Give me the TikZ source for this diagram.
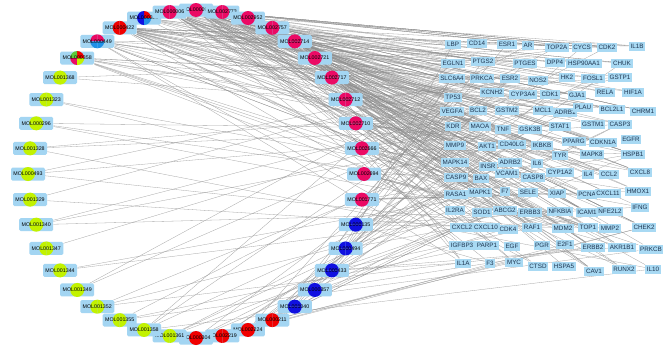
\documentclass[tikz,border=0pt]{standalone}
\usepackage{fontspec}
\setmainfont{Liberation Sans}
\pgfdeclarelayer{background}
\pgfsetlayers{background,main}
\definecolor{molbg}{HTML}{A3D5F2}
\definecolor{tgtbg}{HTML}{A8D9F3}
\definecolor{tgttext}{HTML}{1E3550}
\definecolor{cmag}{HTML}{EB0A64}
\definecolor{cred}{HTML}{F00000}
\definecolor{cblu}{HTML}{1010E0}
\definecolor{cgrn}{HTML}{C2F200}
\definecolor{cgrn2}{HTML}{5CC83A}
\definecolor{clbl}{HTML}{2090E8}
\definecolor{edgec}{HTML}{8E8E8E}
\tikzset{
  molbg/.style={fill=molbg, rounded corners=1.5pt},
  moltext/.style={rectangle, minimum width=34pt, minimum height=13pt, inner sep=0pt,
    font=\fontsize{5.3}{6}\selectfont, text=black},
  tgt/.style={rectangle, fill=tgtbg, inner xsep=1.6pt, inner ysep=0pt, minimum height=9pt,
    font=\fontsize{6.3}{7}\selectfont, text=tgttext},
  edge/.style={draw=edgec, line width=0.3pt, opacity=0.8}
}
\begin{document}
\begin{tikzpicture}[x=1pt,y=-1pt]
\useasboundingbox (0,0) rectangle (670,351);
% molecules on the arc: k / name / colours of quadrants TR, TL, BL, BR
\foreach \k/\nm/\ca/\cb/\cc/\cd in {
  0/MOL000098/cmag/cmag/cmag/cmag,1/MOL002773/cmag/cmag/cmag/cmag,2/MOL002952/cmag/cmag/cmag/cmag,
  3/MOL002757/cmag/cmag/cmag/cmag,4/MOL002714/cmag/cmag/cmag/cmag,5/MOL002721/cmag/cmag/cmag/cmag,
  6/MOL002717/cmag/cmag/cmag/cmag,7/MOL002712/cmag/cmag/cmag/cmag,8/MOL002710/cmag/cmag/cmag/cmag,
  9/MOL002666/cmag/cmag/cmag/cmag,10/MOL002694/cmag/cmag/cmag/cmag,11/MOL001771/cmag/cmag/cmag/cmag,
  12/MOL000135/cblu/cblu/cblu/cblu,13/MOL000494/cblu/cblu/cblu/cblu,14/MOL000433/cblu/cblu/cblu/cblu,
  15/MOL000357/cblu/cblu/cblu/cblu,16/MOL001040/cblu/cblu/cblu/cblu,17/MOL000211/cred/cred/cred/cred,
  18/MOL002224/cred/cred/cred/cred,19/MOL002219/cred/cred/cred/cred,20/MOL000304/cred/cred/cred/cred,
  21/MOL001361/cgrn/cgrn/cgrn/cgrn,22/MOL001358/cgrn/cgrn/cgrn/cgrn,23/MOL001355/cgrn/cgrn/cgrn/cgrn,
  24/MOL001352/cgrn/cgrn/cgrn/cgrn,25/MOL001349/cgrn/cgrn/cgrn/cgrn,26/MOL001344/cgrn/cgrn/cgrn/cgrn,
  27/MOL001347/cgrn/cgrn/cgrn/cgrn,28/MOL001340/cgrn/cgrn/cgrn/cgrn,29/MOL001329/cgrn/cgrn/cgrn/cgrn,
  30/MOL000493/cgrn/cgrn/cgrn/cgrn,31/MOL001328/cgrn/cgrn/cgrn/cgrn,32/MOL000296/cgrn/cgrn/cgrn/cgrn,
  33/MOL001323/cgrn/cgrn/cgrn/cgrn,34/MOL001368/cgrn/cgrn/cgrn/cgrn,35/MOL000358/cred/cgrn2/cmag/cgrn,
  36/MOL000449/cmag/cmag/clbl/clbl,37/MOL000422/cred/cred/cred/cred,38/MOL000359/cred/cblu/cblu/clbl,
  39/MOL000006/cmag/cmag/cmag/cmag}{
  \coordinate (c\k) at ({196+168*cos(90-9*\k)},{174-164*sin(90-9*\k)});
  \fill[molbg] ([shift={(-17,-6.5)}]c\k) rectangle ([shift={(17,6.5)}]c\k);
  \fill[\ca] (c\k) -- ++(0:7pt) arc[start angle=0,end angle=90,radius=7pt] -- cycle;
  \fill[\cb] (c\k) -- ++(90:7pt) arc[start angle=90,end angle=180,radius=7pt] -- cycle;
  \fill[\cc] (c\k) -- ++(180:7pt) arc[start angle=180,end angle=270,radius=7pt] -- cycle;
  \fill[\cd] (c\k) -- ++(270:7pt) arc[start angle=270,end angle=360,radius=7pt] -- cycle;
  \node[moltext] (m\k) at (c\k) {\nm};
}
% targets
\foreach \nm/\x/\y [count=\i] in {LBP/453/44,CD14/477/43,ESR1/507/44,AR/528/45,TOP2A/557/47,
  CYCS/582/47,CDK2/607/47,IL1B/637/46,
  EGLN1/453/63,PTGS2/483/61,PTGES/525/63,DPP4/555/62,HSP90AA1/584/63,CHUK/622/63,
  SLC6A4/452/78,PRKCA/482/78,ESR2/510/78,NOS2/538/80,HK2/567/77,FOSL1/593/78,GSTP1/620/77,
  TP53/453/97,KCNH2/492/92,CYP3A4/523/94,CDK1/550/94,GJA1/577/95,RELA/605/92,HIF1A/633/92,
  VEGFA/452/111,BCL2/478/110,GSTM2/507/110,MCL1/543/110,ADRB1/565/112,PLAU/583/107,
  BCL2L1/612/109,CHRM1/643/111,
  KDR/453/126,MAOA/480/126,TNF/503/129,GSK3B/530/129,STAT1/560/126,GSTM1/593/124,CASP3/620/124,
  MMP9/455/145,AKT1/487/146,CD40LG/512/144,IKBKB/542/145,PPARG/574/141,CDKN1A/603/142,EGFR/631/139,
  TYR/560/155,MAPK8/592/154,HSPB1/633/154,
  MAPK14/455/162,INSR/488/166,ADRB2/510/162,IL6/537/163,
  CYP1A2/560/172,IL4/588/174,CCL2/609/174,CXCL8/640/172,
  CASP9/456/177,BAX/481/178,VCAM1/507/173,CASP8/533/177,
  RASA1/456/194,MAPK1/480/192,F7/505/191,SELE/528/192,XIAP/557/193,PCNA/587/194,CXCL11/608/193,HMOX1/638/191,
  IL2RA/455/210,SOD1/482/212,ABCG2/505/210,ERBB3/530/212,NFKBIA/560/211,ICAM1/587/212,NFE2L2/610/211,IFNG/640/207,
  CXCL2/462/227,CXCL10/486/227,CDK4/508/229,RAF1/532/227,MDM2/563/228,TOP1/588/227,MMP2/610/228,CHEK2/644/227,
  IGFBP3/462/245,PARP1/487/245,EGF/512/246,PGR/542/245,E2F1/565/244,ERBB2/593/247,AKR1B1/622/247,PRKCB/651/249,
  IL1A/463/263,F3/490/263,MYC/514/262,CTSD/538/266,HSPA5/564/266,CAV1/594/271,RUNX2/624/269,IL10/653/269}
  \node[tgt] (t\i) at (\x,\y) {\nm};
% edges
\begin{pgfonlayer}{background}
\fill[white] (0,0) rectangle (670,351);
\pgfmathsetseed{4711}
\foreach \k/\n in {0/45,1/16,2/14,3/18,4/18,5/16,6/15,7/13,8/12,9/10,10/9,11/7,12/6,13/5,
  14/5,15/4,16/3,17/6,18/5,19/4,20/4,21/3,22/4,23/3,24/3,25/2,26/2,27/1,28/3,29/2,30/3,
  31/3,32/3,33/2,34/2,35/10,36/12,37/30,38/8,39/25}{
  \foreach \j in {1,...,\n}{
    \pgfmathtruncatemacro\ti{random(1,105)}
    \draw[edge] (m\k) -- (t\ti);
  }
}
\end{pgfonlayer}
\end{tikzpicture}
\end{document}
